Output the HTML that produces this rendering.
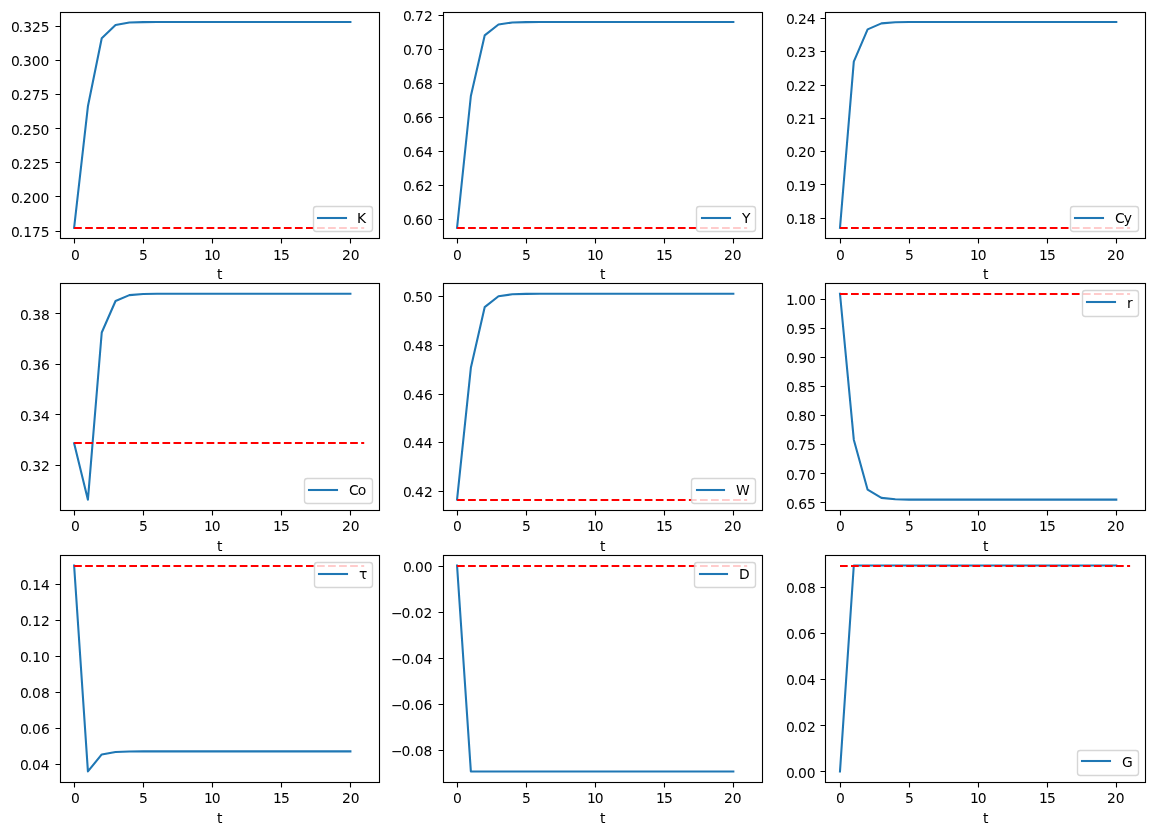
<!DOCTYPE html>
<html lang="en">
<head>
<meta charset="utf-8">
<title>Transition paths</title>
<style>
html,body{margin:0;padding:0;background:#fff;}
body{width:1154px;height:835px;overflow:hidden;}
svg{display:block;}
text{font-family:"DejaVu Sans","Liberation Sans",sans-serif;font-size:13.889px;fill:#000;}
.sp{fill:none;stroke:#000;stroke-width:1.111;stroke-linecap:square;stroke-linejoin:miter;}
.tk{stroke:#000;stroke-width:1.111;fill:none;}
.ln{fill:none;stroke:#1f77b4;stroke-width:2.083;stroke-linejoin:round;stroke-linecap:square;}
.hl{fill:none;stroke:#ff0000;stroke-width:2.083;stroke-dasharray:7.708 3.333;stroke-linecap:butt;}
.lb{fill:#fff;fill-opacity:0.8;stroke:#ccc;stroke-opacity:0.8;stroke-width:1.389;}
</style>
</head>
<body>
<svg width="1154" height="835" viewBox="0 0 1154 835">
<rect x="0" y="0" width="1154" height="835" fill="#fff"/>
<g id="ax-K">
<clipPath id="cp0"><rect x="59.6" y="11.72" width="319.12" height="226.47"/></clipPath>
<g clip-path="url(#cp0)">
<polyline class="ln" points="74.11,227.9 87.92,106.29 101.74,38.22 115.55,25.03 129.37,22.57 143.18,22.12 157,22.04 170.81,22.02 184.62,22.02 198.44,22.02 212.25,22.02 226.07,22.02 239.88,22.02 253.7,22.02 267.51,22.02 281.33,22.02 295.14,22.02 308.96,22.02 322.77,22.02 336.59,22.02 350.4,22.02"/>
<path class="hl" d="M74.11 228H364.21"/>
</g>
<path class="tk" d="M74.5 238.5v5M143.5 238.5v5M212.5 238.5v5M281.5 238.5v5M350.5 238.5v5M60.5 231.5h-5M60.5 196.5h-5M60.5 162.5h-5M60.5 128.5h-5M60.5 94.5h-5M60.5 60.5h-5M60.5 26.5h-5"/>
<rect class="sp" x="60.5" y="12.5" width="319" height="226"/>
<text x="70.9" y="260">0</text>
<text x="138.9" y="260">5</text>
<text x="203.9 211.78" y="260">10</text>
<text x="273 280.88" y="260">15</text>
<text x="341.9 350.65" y="260">20</text>
<text x="11.1 18.85 23.23 32.1 40.85" y="237">0.175</text>
<text x="10.9 18.65 23.02 31.77 40.52" y="203">0.200</text>
<text x="11 18.75 23.12 31.88 40.62" y="169">0.225</text>
<text x="11 18.75 23.12 31.88 40.62" y="135">0.250</text>
<text x="10.9 18.65 23.02 31.77 40.52" y="100">0.275</text>
<text x="10.9 18.65 23.02 31.77 40.52" y="66">0.300</text>
<text x="11.1 18.85 23.23 31.98 40.73" y="32">0.325</text>
<text x="216.9" y="279">t</text>
<rect class="lb" x="313.5" y="206.5" width="59" height="25" rx="2.78" ry="2.78"/>
<path class="ln" d="M318 218H346"/>
<text x="356.9" y="223">K</text>
</g>
<g id="ax-Y">
<clipPath id="cp1"><rect x="442.54" y="11.72" width="319.12" height="226.47"/></clipPath>
<g clip-path="url(#cp1)">
<polyline class="ln" points="457.05,227.9 470.86,96 484.68,35.43 498.49,24.49 512.31,22.47 526.12,22.1 539.94,22.03 553.75,22.02 567.57,22.02 581.38,22.02 595.19,22.02 609.01,22.02 622.82,22.02 636.64,22.02 650.45,22.02 664.27,22.02 678.08,22.02 691.9,22.02 705.71,22.02 719.53,22.02 733.34,22.02"/>
<path class="hl" d="M457.05 228H747.16"/>
</g>
<path class="tk" d="M457.5 238.5v5M526.5 238.5v5M595.5 238.5v5M664.5 238.5v5M733.5 238.5v5M443.5 219.5h-5M443.5 185.5h-5M443.5 151.5h-5M443.5 117.5h-5M443.5 83.5h-5M443.5 49.5h-5M443.5 15.5h-5"/>
<rect class="sp" x="443.5" y="12.5" width="319" height="226"/>
<text x="452.9" y="260">0</text>
<text x="521.9" y="260">5</text>
<text x="586.9 594.77" y="260">10</text>
<text x="656 663.88" y="260">15</text>
<text x="723.9 732.65" y="260">20</text>
<text x="403.1 410.85 415.23 424.1" y="225">0.60</text>
<text x="403.1 410.85 415.23 424.1" y="191">0.62</text>
<text x="403.1 410.85 415.23 424.1" y="157">0.64</text>
<text x="403.1 410.85 415.23 424.1" y="123">0.66</text>
<text x="403.1 410.85 415.23 424.1" y="89">0.68</text>
<text x="402.9 410.65 415.02 423.77" y="55">0.70</text>
<text x="403 410.75 415.12 423.88" y="21">0.72</text>
<text x="599.9" y="279">t</text>
<rect class="lb" x="696.5" y="206.5" width="59" height="25" rx="2.78" ry="2.78"/>
<path class="ln" d="M702 218H730"/>
<text x="741.9" y="223">Y</text>
</g>
<g id="ax-Cy">
<clipPath id="cp2"><rect x="825.48" y="11.72" width="319.12" height="226.47"/></clipPath>
<g clip-path="url(#cp2)">
<polyline class="ln" points="839.99,227.9 853.8,61.59 867.62,29.39 881.43,23.38 895.25,22.27 909.06,22.06 922.88,22.02 936.69,22.02 950.51,22.02 964.32,22.02 978.14,22.02 991.95,22.02 1005.77,22.02 1019.58,22.02 1033.39,22.02 1047.21,22.02 1061.02,22.02 1074.84,22.02 1088.65,22.02 1102.47,22.02 1116.28,22.02"/>
<path class="hl" d="M839.99 228H1130.1"/>
</g>
<path class="tk" d="M840.5 238.5v5M909.5 238.5v5M978.5 238.5v5M1047.5 238.5v5M1116.5 238.5v5M825.5 218.5h-5M825.5 184.5h-5M825.5 151.5h-5M825.5 118.5h-5M825.5 85.5h-5M825.5 51.5h-5M825.5 18.5h-5"/>
<rect class="sp" x="825.5" y="12.5" width="320" height="226"/>
<text x="835.9" y="260">0</text>
<text x="904.9" y="260">5</text>
<text x="969.9 977.77" y="260">10</text>
<text x="1039 1046.88" y="260">15</text>
<text x="1106.9 1115.65" y="260">20</text>
<text x="786.1 793.85 798.23 807.1" y="224">0.18</text>
<text x="786.1 793.85 798.23 807.1" y="191">0.19</text>
<text x="785.9 793.65 798.02 806.77" y="157">0.20</text>
<text x="786 793.75 798.12 806.88" y="124">0.21</text>
<text x="786 793.75 798.12 806.88" y="91">0.22</text>
<text x="786 793.75 798.12 806.88" y="57">0.23</text>
<text x="785.9 793.65 798.02 806.77" y="24">0.24</text>
<text x="982.9" y="279">t</text>
<rect class="lb" x="1070.5" y="206.5" width="68" height="25" rx="2.78" ry="2.78"/>
<path class="ln" d="M1075 218H1103"/>
<text x="1114.9 1123.65" y="223">Cy</text>
</g>
<g id="ax-Co">
<clipPath id="cp3"><rect x="59.6" y="283.49" width="319.12" height="226.47"/></clipPath>
<g clip-path="url(#cp3)">
<polyline class="ln" points="74.11,443.14 87.92,499.66 101.74,332.52 115.55,300.97 129.37,295.11 143.18,294.03 157,293.83 170.81,293.79 184.62,293.78 198.44,293.78 212.25,293.78 226.07,293.78 239.88,293.78 253.7,293.78 267.51,293.78 281.33,293.78 295.14,293.78 308.96,293.78 322.77,293.78 336.59,293.78 350.4,293.78"/>
<path class="hl" d="M74.11 443H364.21"/>
</g>
<path class="tk" d="M74.5 510.5v5M143.5 510.5v5M212.5 510.5v5M281.5 510.5v5M350.5 510.5v5M60.5 465.5h-5M60.5 414.5h-5M60.5 364.5h-5M60.5 313.5h-5"/>
<rect class="sp" x="60.5" y="283.5" width="319" height="227"/>
<text x="70.9" y="531">0</text>
<text x="138.9" y="531">5</text>
<text x="203.9 211.78" y="531">10</text>
<text x="273 280.88" y="531">15</text>
<text x="341.9 350.65" y="531">20</text>
<text x="20.1 27.85 32.23 40.98" y="471">0.32</text>
<text x="20.1 27.85 32.23 40.98" y="421">0.34</text>
<text x="20.1 27.85 32.23 40.98" y="370">0.36</text>
<text x="20.1 27.85 32.23 40.98" y="320">0.38</text>
<text x="216.9" y="551">t</text>
<rect class="lb" x="304.5" y="478.5" width="68" height="25" rx="2.78" ry="2.78"/>
<path class="ln" d="M309 490H337"/>
<text x="348.9 357.65" y="495">Co</text>
</g>
<g id="ax-W">
<clipPath id="cp4"><rect x="442.54" y="283.49" width="319.12" height="226.47"/></clipPath>
<g clip-path="url(#cp4)">
<polyline class="ln" points="457.05,499.66 470.86,367.77 484.68,307.19 498.49,296.25 512.31,294.24 526.12,293.87 539.94,293.8 553.75,293.78 567.57,293.78 581.38,293.78 595.19,293.78 609.01,293.78 622.82,293.78 636.64,293.78 650.45,293.78 664.27,293.78 678.08,293.78 691.9,293.78 705.71,293.78 719.53,293.78 733.34,293.78"/>
<path class="hl" d="M457.05 500H747.16"/>
</g>
<path class="tk" d="M457.5 510.5v5M526.5 510.5v5M595.5 510.5v5M664.5 510.5v5M733.5 510.5v5M443.5 491.5h-5M443.5 442.5h-5M443.5 394.5h-5M443.5 345.5h-5M443.5 296.5h-5"/>
<rect class="sp" x="443.5" y="283.5" width="319" height="227"/>
<text x="452.9" y="531">0</text>
<text x="521.9" y="531">5</text>
<text x="586.9 594.77" y="531">10</text>
<text x="656 663.88" y="531">15</text>
<text x="723.9 732.65" y="531">20</text>
<text x="403 410.75 415.12 423.88" y="497">0.42</text>
<text x="402.9 410.65 415.02 423.77" y="448">0.44</text>
<text x="403 410.75 415.12 423.88" y="400">0.46</text>
<text x="403 410.75 415.12 423.88" y="351">0.48</text>
<text x="402.9 410.65 415.02 423.77" y="302">0.50</text>
<text x="599.9" y="551">t</text>
<rect class="lb" x="691.5" y="478.5" width="64" height="25" rx="2.78" ry="2.78"/>
<path class="ln" d="M697 490H724"/>
<text x="735.9" y="495">W</text>
</g>
<g id="ax-r">
<clipPath id="cp5"><rect x="825.48" y="283.49" width="319.12" height="226.47"/></clipPath>
<g clip-path="url(#cp5)">
<polyline class="ln" points="839.99,293.78 853.8,439.68 867.62,489.69 881.43,497.85 895.25,499.33 909.06,499.6 922.88,499.65 936.69,499.66 950.51,499.66 964.32,499.66 978.14,499.66 991.95,499.66 1005.77,499.66 1019.58,499.66 1033.39,499.66 1047.21,499.66 1061.02,499.66 1074.84,499.66 1088.65,499.66 1102.47,499.66 1116.28,499.66"/>
<path class="hl" d="M839.99 294H1130.1"/>
</g>
<path class="tk" d="M840.5 510.5v5M909.5 510.5v5M978.5 510.5v5M1047.5 510.5v5M1116.5 510.5v5M825.5 502.5h-5M825.5 473.5h-5M825.5 444.5h-5M825.5 415.5h-5M825.5 386.5h-5M825.5 357.5h-5M825.5 328.5h-5M825.5 299.5h-5"/>
<rect class="sp" x="825.5" y="283.5" width="320" height="227"/>
<text x="835.9" y="531">0</text>
<text x="904.9" y="531">5</text>
<text x="969.9 977.77" y="531">10</text>
<text x="1039 1046.88" y="531">15</text>
<text x="1106.9 1115.65" y="531">20</text>
<text x="786.1 793.85 798.23 807.1" y="509">0.65</text>
<text x="785.9 793.65 798.02 806.77" y="480">0.70</text>
<text x="786 793.75 798.12 806.88" y="450">0.75</text>
<text x="786.1 793.85 798.23 807.1" y="421">0.80</text>
<text x="786.1 793.85 798.23 807.1" y="392">0.85</text>
<text x="786.1 793.85 798.23 807.1" y="363">0.90</text>
<text x="786.1 793.85 798.23 807.1" y="334">0.95</text>
<text x="785.9 793.77 798.15 806.9" y="305">1.00</text>
<text x="982.9" y="551">t</text>
<rect class="lb" x="1082.5" y="290.5" width="56" height="26" rx="2.78" ry="2.78"/>
<path class="ln" d="M1087 302H1115"/>
<text x="1126.9" y="308">r</text>
</g>
<g id="ax-tau">
<clipPath id="cp6"><rect x="59.6" y="555.25" width="319.12" height="226.47"/></clipPath>
<g clip-path="url(#cp6)">
<polyline class="ln" points="74.11,565.55 87.92,771.43 101.74,754.41 115.55,751.92 129.37,751.48 143.18,751.4 157,751.39 170.81,751.38 184.62,751.38 198.44,751.38 212.25,751.38 226.07,751.38 239.88,751.38 253.7,751.38 267.51,751.38 281.33,751.38 295.14,751.38 308.96,751.38 322.77,751.38 336.59,751.38 350.4,751.38"/>
<path class="hl" d="M74.11 566H364.21"/>
</g>
<path class="tk" d="M74.5 782.5v5M143.5 782.5v5M212.5 782.5v5M281.5 782.5v5M350.5 782.5v5M60.5 764.5h-5M60.5 728.5h-5M60.5 692.5h-5M60.5 656.5h-5M60.5 620.5h-5M60.5 584.5h-5"/>
<rect class="sp" x="60.5" y="555.5" width="319" height="227"/>
<text x="70.9" y="803">0</text>
<text x="138.9" y="803">5</text>
<text x="203.9 211.78" y="803">10</text>
<text x="273 280.88" y="803">15</text>
<text x="341.9 350.65" y="803">20</text>
<text x="19.9 27.65 32.02 40.77" y="770">0.04</text>
<text x="20 27.75 32.12 40.88" y="734">0.06</text>
<text x="20 27.75 32.12 40.88" y="698">0.08</text>
<text x="20.1 27.85 32.23 41.1" y="662">0.10</text>
<text x="20.1 27.85 32.23 41.1" y="626">0.12</text>
<text x="20.1 27.85 32.23 41.1" y="590">0.14</text>
<text x="216.9" y="823">t</text>
<rect class="lb" x="314.5" y="562.5" width="58" height="25" rx="2.78" ry="2.78"/>
<path class="ln" d="M319 574H347"/>
<text x="358.9" y="579">τ</text>
</g>
<g id="ax-D">
<clipPath id="cp7"><rect x="442.54" y="555.25" width="319.12" height="226.47"/></clipPath>
<g clip-path="url(#cp7)">
<polyline class="ln" points="457.05,565.55 470.86,771.43 484.68,771.43 498.49,771.43 512.31,771.43 526.12,771.43 539.94,771.43 553.75,771.43 567.57,771.43 581.38,771.43 595.19,771.43 609.01,771.43 622.82,771.43 636.64,771.43 650.45,771.43 664.27,771.43 678.08,771.43 691.9,771.43 705.71,771.43 719.53,771.43 733.34,771.43"/>
<path class="hl" d="M457.05 566H747.16"/>
</g>
<path class="tk" d="M457.5 782.5v5M526.5 782.5v5M595.5 782.5v5M664.5 782.5v5M733.5 782.5v5M443.5 750.5h-5M443.5 704.5h-5M443.5 658.5h-5M443.5 612.5h-5M443.5 566.5h-5"/>
<rect class="sp" x="443.5" y="555.5" width="319" height="227"/>
<text x="452.9" y="803">0</text>
<text x="521.9" y="803">5</text>
<text x="586.9 594.77" y="803">10</text>
<text x="656 663.88" y="803">15</text>
<text x="723.9 732.65" y="803">20</text>
<text x="390.9 401.52 410.27 414.65 423.4" y="756">−0.08</text>
<text x="390.9 401.52 410.27 414.65 423.4" y="710">−0.06</text>
<text x="390.9 401.52 410.27 414.65 423.4" y="664">−0.04</text>
<text x="390.9 401.52 410.27 414.65 423.4" y="618">−0.02</text>
<text x="402.9 410.65 415.02 423.77" y="572">0.00</text>
<text x="599.9" y="823">t</text>
<rect class="lb" x="694.5" y="562.5" width="61" height="25" rx="2.78" ry="2.78"/>
<path class="ln" d="M700 574H727"/>
<text x="738.9" y="579">D</text>
</g>
<g id="ax-G">
<clipPath id="cp8"><rect x="825.48" y="555.25" width="319.12" height="226.47"/></clipPath>
<g clip-path="url(#cp8)">
<polyline class="ln" points="839.99,771.43 853.8,565.55 867.62,565.55 881.43,565.55 895.25,565.55 909.06,565.55 922.88,565.55 936.69,565.55 950.51,565.55 964.32,565.55 978.14,565.55 991.95,565.55 1005.77,565.55 1019.58,565.55 1033.39,565.55 1047.21,565.55 1061.02,565.55 1074.84,565.55 1088.65,565.55 1102.47,565.55 1116.28,565.55"/>
<path class="hl" d="M839.99 566H1130.1"/>
</g>
<path class="tk" d="M840.5 782.5v5M909.5 782.5v5M978.5 782.5v5M1047.5 782.5v5M1116.5 782.5v5M825.5 771.5h-5M825.5 725.5h-5M825.5 679.5h-5M825.5 633.5h-5M825.5 587.5h-5"/>
<rect class="sp" x="825.5" y="555.5" width="320" height="227"/>
<text x="835.9" y="803">0</text>
<text x="904.9" y="803">5</text>
<text x="969.9 977.77" y="803">10</text>
<text x="1039 1046.88" y="803">15</text>
<text x="1106.9 1115.65" y="803">20</text>
<text x="785.9 793.65 798.02 806.77" y="778">0.00</text>
<text x="786 793.75 798.12 806.88" y="732">0.02</text>
<text x="785.9 793.65 798.02 806.77" y="685">0.04</text>
<text x="786 793.75 798.12 806.88" y="639">0.06</text>
<text x="786 793.75 798.12 806.88" y="593">0.08</text>
<text x="982.9" y="823">t</text>
<rect class="lb" x="1077.5" y="750.5" width="61" height="25" rx="2.78" ry="2.78"/>
<path class="ln" d="M1082 761H1110"/>
<text x="1121.9" y="767">G</text>
</g>
</svg>
</body>
</html>
